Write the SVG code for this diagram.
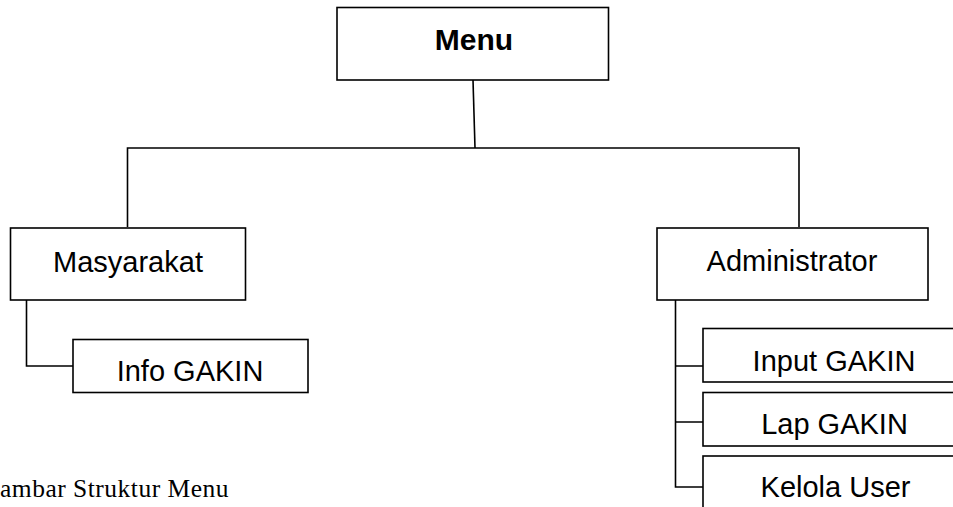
<svg xmlns="http://www.w3.org/2000/svg" width="953" height="507" viewBox="0 0 953 507">
<style>
.box{fill:#fff;stroke:#000;stroke-width:1.6}
.lbl{font-family:"Liberation Sans",Arial,sans-serif;font-size:29px;fill:#000;text-anchor:middle}
.bold{font-weight:bold;font-size:30px}
.conn{fill:none;stroke:#000;stroke-width:1.6}
.cap{font-family:"Liberation Serif","Times New Roman",serif;font-size:25.5px;letter-spacing:0.5px;fill:#000}
</style>
<rect width="953" height="507" fill="#fff"/>
<g id="connectors">
<path class="conn" d="M473 80 L475 148"/>
<path class="conn" d="M127.5 227 V148 H799 V227"/>
<path class="conn" d="M26.5 300 V366 H73"/>
<path class="conn" d="M675.5 300 V487 H703 M675.5 366 H703 M675.5 422 H703"/>
</g>
<g id="menu">
<rect class="box" x="337" y="7.5" width="271.5" height="72.5"/>
<text class="lbl bold" x="474" y="50">Menu</text>
</g>
<g id="masyarakat">
<rect class="box" x="10.5" y="228" width="235" height="72"/>
<text class="lbl" x="128" y="272">Masyarakat</text>
</g>
<g id="info-gakin">
<rect class="box" x="73" y="339.5" width="235" height="53"/>
<text class="lbl" x="190" y="381">Info GAKIN</text>
</g>
<g id="administrator">
<rect class="box" x="657" y="228" width="271" height="72"/>
<text class="lbl" x="792" y="271">Administrator</text>
</g>
<g id="input-gakin">
<rect class="box" x="703" y="328.5" width="263" height="53.5"/>
<text class="lbl" x="834" y="371">Input GAKIN</text>
</g>
<g id="lap-gakin">
<rect class="box" x="703" y="392.5" width="263" height="53.5"/>
<text class="lbl" x="834.5" y="434">Lap GAKIN</text>
</g>
<g id="kelola-user">
<rect class="box" x="703" y="456" width="263" height="60"/>
<text class="lbl" x="835.5" y="497">Kelola User</text>
</g>
<text class="cap" x="0" y="497">ambar Struktur Menu</text>
</svg>
